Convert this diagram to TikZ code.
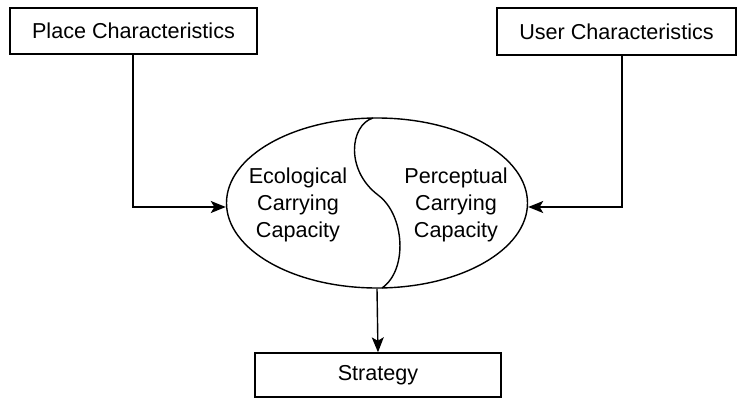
\documentclass[tikz,border=0pt]{standalone}
\usepackage{fontspec}
\setmainfont{Liberation Sans}
\usetikzlibrary{shapes.geometric,arrows.meta}
\begin{document}
\begin{tikzpicture}[x=1pt,y=-1pt,
  box/.style={draw,line width=1.4pt,inner sep=0pt,font=\fontsize{21.6}{27}\selectfont},
  conn/.style={line width=1.4pt,-{Stealth[length=15pt,width=12pt,inset=3.5pt]}},
  lbl/.style={align=center,font=\fontsize{21.6}{27}\selectfont,inner sep=0pt}]
\useasboundingbox (0,0) rectangle (737,399);
\node[box,minimum width=247pt,minimum height=46pt] (place) at (133.5,31) {Place Characteristics};
\node[box,minimum width=239pt,minimum height=47pt] (user) at (616.5,31.5) {User Characteristics};
\node[box,minimum width=246pt,minimum height=44pt] (strat) at (378,375) {Strategy};
\node[draw,ellipse,line width=1.4pt,minimum width=301pt,minimum height=170pt,inner sep=0pt] (ell) at (377,203) {};
\draw[line width=1.4pt] (373,118) .. controls (350,125) and (345,170) .. (378,195)
  .. controls (405,215) and (408,270) .. (382,288);
\node[lbl] (eco) at (298,205) {Ecological\\Carrying\\Capacity};
\node[lbl] (perc) at (456,205) {Perceptual\\Carrying\\Capacity};
\coordinate (pc) at (133,207);
\coordinate (uc) at (622,207);
\draw[conn] (place.south -| pc) -- (pc) -- (pc -| ell.west);
\draw[conn] (user.south -| uc) -- (uc) -- (uc -| ell.east);
\draw[conn] (ell.south) -- (strat.north);
\end{tikzpicture}
\end{document}
